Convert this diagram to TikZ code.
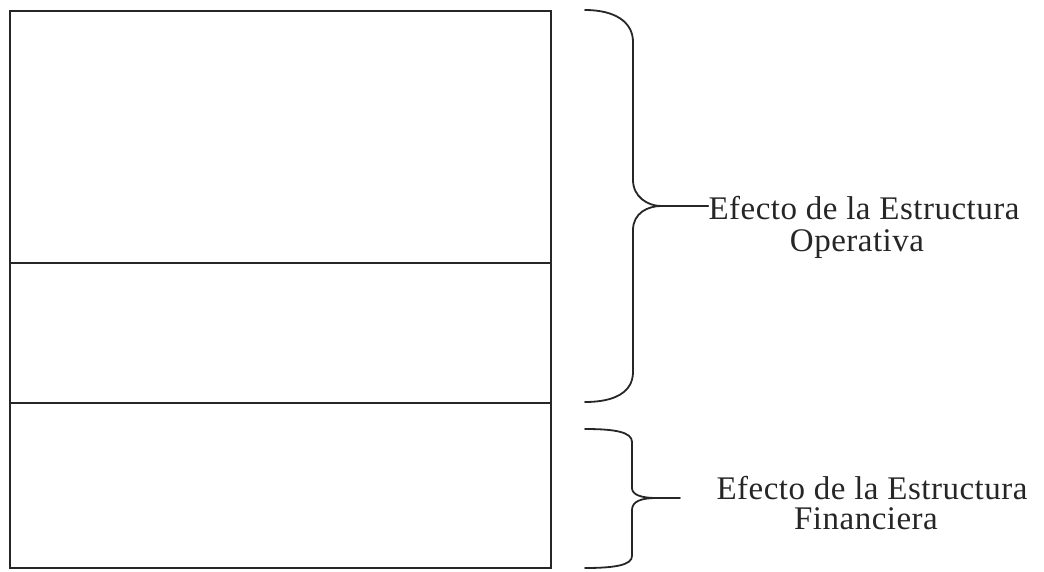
\documentclass[tikz,border=0pt]{standalone}
\usepackage{fontspec}
\setmainfont{Liberation Serif}[LetterSpace=1.5]
\begin{document}
\begin{tikzpicture}[x=1pt,y=-1pt,
  frame/.style={draw=black!85,line width=1.6pt},
  brace/.style={draw=black!85,line width=1.8pt,line cap=round},
  lbl/.style={font=\fontsize{33}{33}\selectfont,inner sep=0pt,anchor=base,text=black!85}]
\useasboundingbox (0,0) rectangle (1044,571);
% boxes
\draw[frame] (10,11) rectangle (551,568);
\draw[frame] (10,263) -- (551,263);
\draw[frame] (10,403) -- (551,403);
% labels
\node[lbl] (op1) at (864,219) {Efecto de la Estructura};
\node[lbl] (op2) at (857,251) {Operativa};
\node[lbl] (fi1) at (872,499) {Efecto de la Estructura};
\node[lbl] (fi2) at (866,529) {Financiera};
% brace 1
\coordinate (t1) at (661,206);
\coordinate (e1) at (op1.west |- t1);
\draw[brace] (585,10) .. controls (615,10) and (633,22) .. (633,42)
  -- (633,180) .. controls (633,197) and (648,206) .. (t1)
  .. controls (648,206) and (633,213) .. (633,230)
  -- (633,372) .. controls (633,392) and (615,402) .. (585,402);
\draw[brace,line width=1.2pt] (t1) -- (e1);
% brace 2
\coordinate (t2) at (656,498);
\coordinate (e2) at (680,498);
\draw[brace] (585,429) .. controls (615,429) and (632,432) .. (632,442)
  -- (632,488) .. controls (632,495) and (642,498) .. (t2)
  .. controls (642,498) and (632,501) .. (632,510)
  -- (632,556) .. controls (632,565) and (615,568) .. (585,568);
\draw[brace] (t2) -- (e2);
\end{tikzpicture}
\end{document}
